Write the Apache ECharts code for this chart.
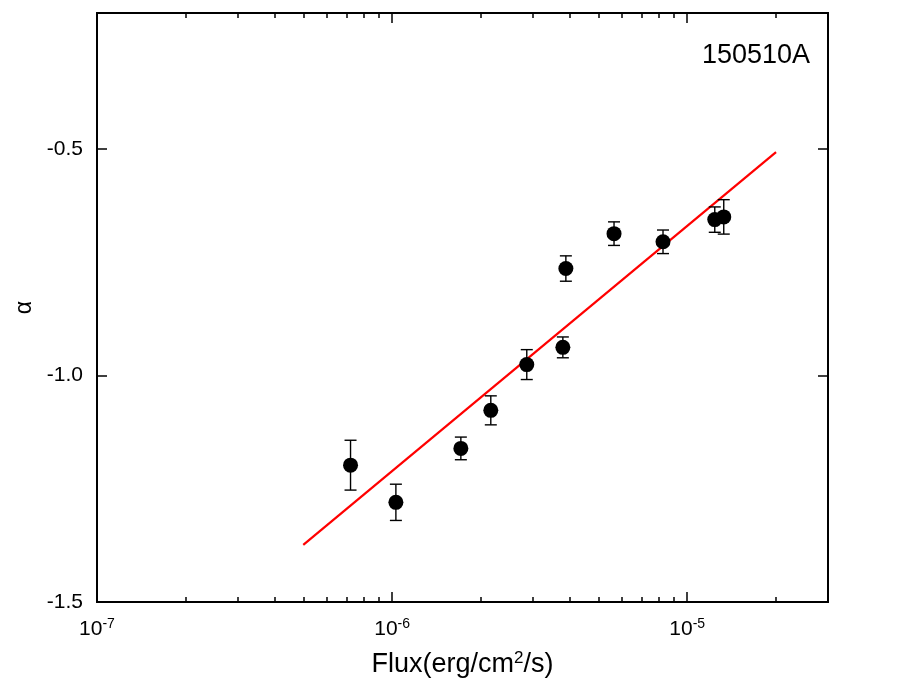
<!DOCTYPE html>
<html>
<head>
<meta charset="utf-8">
<script src="https://cdn.jsdelivr.net/npm/echarts@6/dist/echarts.min.js"></script>
<style>
  html, body { margin: 0; padding: 0; background: #fff; }
  #main { width: 917px; height: 695px; }
</style>
</head>
<body>
<div id="main"></div>
<script>
// 数据
const flux = [7.23e-7, 1.03e-6, 1.71e-6, 2.16e-6, 2.86e-6, 3.79e-6, 3.88e-6, 5.65e-6, 8.28e-6, 1.24e-5, 1.33e-5];
const alpha = [-1.198, -1.280, -1.161, -1.077, -0.976, -0.938, -0.764, -0.687, -0.705, -0.656, -0.650];
const alphaErr = [0.055, 0.040, 0.025, 0.032, 0.033, 0.023, 0.028, 0.026, 0.026, 0.028, 0.038];
// 拟合直线两端
const fitFlux = [5e-7, 2e-5];
const fitAlpha = [-1.374, -0.507];
// 刻度
const majorTicks = [1e-7, 1e-6, 1e-5];
const minorTicks = [2e-7, 3e-7, 4e-7, 5e-7, 6e-7, 7e-7, 8e-7, 9e-7,
  2e-6, 3e-6, 4e-6, 5e-6, 6e-6, 7e-6, 8e-6, 9e-6, 2e-5];
const yTicks = [-1.5, -1.0, -0.5];

const FONT = "Liberation Sans";
const chart = echarts.init(document.getElementById("main"));

function xAxisBase(pos) {
  return {
    type: "log", logBase: 10, min: 1e-7, max: 3e-5, position: pos,
    axisLine: { show: true, onZero: false, lineStyle: { color: "#000", width: 2 } },
    splitLine: { show: false },
    axisLabel: { show: false },
    axisTick: { inside: true, length: 10, lineStyle: { color: "#000", width: 1.5 }, customValues: majorTicks }
  };
}

const xMain = xAxisBase("bottom");
xMain.name = "Flux(erg/cm{sup|2}/s)";
xMain.nameLocation = "middle";
xMain.nameGap = 48;
xMain.nameTextStyle = {
  fontFamily: FONT, fontSize: 27, color: "#000",
  rich: { sup: { fontFamily: FONT, fontSize: 17, padding: [0, 0, 13, 0], color: "#000" } }
};
xMain.axisLabel = {
  show: true, margin: 15, customValues: majorTicks,
  fontFamily: FONT, fontSize: 21, color: "#000",
  formatter: v => "10{sup|" + Math.round(Math.log10(v)) + "}",
  rich: { sup: { fontFamily: FONT, fontSize: 14, padding: [0, 0, 10, 0], color: "#000" } }
};

const xMinor = xAxisBase("bottom");
xMinor.axisTick = { inside: true, length: 5, lineStyle: { color: "#000", width: 1.5 }, customValues: minorTicks };
const xTop = xAxisBase("top");
const xTopMinor = xAxisBase("top");
xTopMinor.axisTick = { inside: true, length: 5, lineStyle: { color: "#000", width: 1.5 }, customValues: minorTicks };

function yAxisBase(pos) {
  return {
    type: "value", min: -1.5, max: -0.2, position: pos,
    axisLine: { show: true, onZero: false, lineStyle: { color: "#000", width: 2 } },
    splitLine: { show: false },
    axisLabel: { show: false },
    axisTick: { inside: true, length: 10, lineStyle: { color: "#000", width: 1.5 }, customValues: yTicks }
  };
}
const yMain = yAxisBase("left");
yMain.name = "α";
yMain.nameLocation = "middle";
yMain.nameGap = 58;
yMain.nameTextStyle = { fontFamily: FONT, fontSize: 23, color: "#000" };
yMain.axisLabel = {
  show: true, margin: 14, customValues: yTicks,
  fontFamily: FONT, fontSize: 21, color: "#000",
  formatter: v => v.toFixed(1)
};
const yRight = yAxisBase("right");

const option = {
  animation: false,
  backgroundColor: "#fff",
  title: {
    text: "150510A", left: 697, top: 37,
    textStyle: { fontFamily: FONT, fontSize: 27, fontWeight: "normal", color: "#000" }
  },
  grid: { left: 97, top: 13, right: 89, bottom: 93 },
  xAxis: [xMain, xMinor, xTop, xTopMinor],
  yAxis: [yMain, yRight],
  series: [
    {
      name: "fit", type: "line", xAxisIndex: 0, yAxisIndex: 0,
      data: fitFlux.map((f, i) => [f, fitAlpha[i]]),
      showSymbol: false, symbol: "none",
      lineStyle: { color: "#ff0000", width: 2.2 }, z: 2
    },
    {
      name: "err", type: "custom", xAxisIndex: 0, yAxisIndex: 0,
      data: flux.map((f, i) => [f, alpha[i] - alphaErr[i], alpha[i] + alphaErr[i]]),
      renderItem: function (params, api) {
        const lo = api.coord([api.value(0), api.value(1)]);
        const hi = api.coord([api.value(0), api.value(2)]);
        const w = 6;
        const st = { stroke: "#000", lineWidth: 1.4 };
        return {
          type: "group",
          children: [
            { type: "line", shape: { x1: lo[0], y1: lo[1], x2: hi[0], y2: hi[1] }, style: st },
            { type: "line", shape: { x1: lo[0] - w, y1: lo[1], x2: lo[0] + w, y2: lo[1] }, style: st },
            { type: "line", shape: { x1: hi[0] - w, y1: hi[1], x2: hi[0] + w, y2: hi[1] }, style: st }
          ]
        };
      },
      z: 3
    },
    {
      name: "alpha", type: "scatter", xAxisIndex: 0, yAxisIndex: 0,
      data: flux.map((f, i) => [f, alpha[i]]),
      symbol: "circle", symbolSize: 15,
      itemStyle: { color: "#000", opacity: 1 }, z: 4
    }
  ]
};
option && chart.setOption(option);
</script>
</body>
</html>
